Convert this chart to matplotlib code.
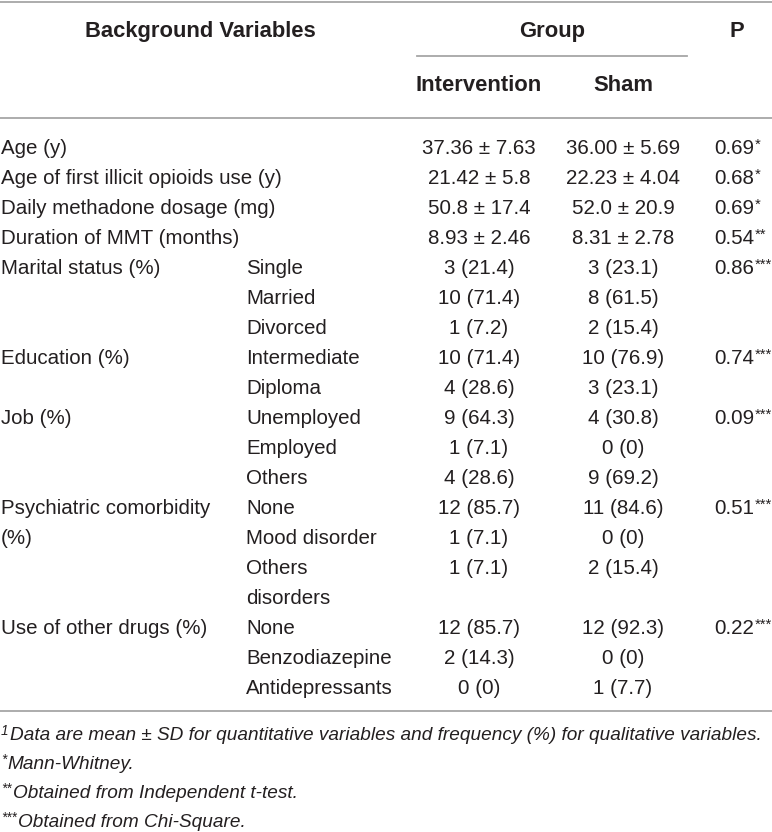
import matplotlib
matplotlib.use('Agg')
import matplotlib.pyplot as plt
from matplotlib import font_manager

# table content
row_labels = ['Age (y)', 'Age of first illicit opioids use (y)', 'Daily methadone dosage (mg)',
              'Duration of MMT (months)', 'Marital status (%)', '', '', 'Education (%)', '',
              'Job (%)', '', '', 'Psychiatric comorbidity', '(%)', '', '',
              'Use of other drugs (%)', '', '']
sub_labels = ['', '', '', '', 'Single', 'Married', 'Divorced', 'Intermediate', 'Diploma',
              'Unemployed', 'Employed', 'Others', 'None', 'Mood disorder', 'Others', 'disorders',
              'None', 'Benzodiazepine', 'Antidepressants']
intervention = ['37.36 ± 7.63', '21.42 ± 5.8', '50.8 ± 17.4', '8.93 ± 2.46', '3 (21.4)',
                '10 (71.4)', '1 (7.2)', '10 (71.4)', '4 (28.6)', '9 (64.3)', '1 (7.1)',
                '4 (28.6)', '12 (85.7)', '1 (7.1)', '1 (7.1)', '', '12 (85.7)', '2 (14.3)', '0 (0)']
sham = ['36.00 ± 5.69', '22.23 ± 4.04', '52.0 ± 20.9', '8.31 ± 2.78', '3 (23.1)',
        '8 (61.5)', '2 (15.4)', '10 (76.9)', '3 (23.1)', '4 (30.8)', '0 (0)',
        '9 (69.2)', '11 (84.6)', '0 (0)', '2 (15.4)', '', '12 (92.3)', '0 (0)', '1 (7.7)']
p_values = ['0.69', '0.68', '0.69', '0.54', '0.86', '', '', '0.74', '', '0.09', '', '',
            '0.51', '', '', '', '0.22', '', '']
p_marks = ['*', '*', '*', '**', '***', '', '', '***', '', '***', '', '',
           '***', '', '', '', '***', '', '']
footnotes = [('1', 'Data are mean ± SD for quantitative variables and frequency (%) for qualitative variables.'),
             ('*', 'Mann-Whitney.'),
             ('**', 'Obtained from Independent t-test.'),
             ('***', 'Obtained from Chi-Square.')]

FAM = ['Liberation Sans', 'DejaVu Sans']
PX = 20.5        # body text size in pixels
PX_HEAD = 22     # bold header
PX_FOOT = 19     # footnotes
INK = '#231f20'
RULE = '#a6a6a6'

fig = plt.figure(figsize=(7.72, 8.32), dpi=100)
ax = fig.add_axes([0, 0, 1, 1])
ax.set_xlim(0, 772)
ax.set_ylim(832, 0)
ax.axis('off')

def put(x, y, s, ha='left', px=PX, **kw):
    # y is the visual middle of the capitals
    return ax.text(x, y + px * 0.36, s, ha=ha, va='baseline', fontsize=px * 0.72,
                   family=FAM, color=INK, **kw)

# rules
ax.plot([0, 772], [2, 2], color=RULE, lw=1.3)
ax.plot([417, 687], [56, 56], color=RULE, lw=1.3)
ax.plot([0, 772], [118, 118], color=RULE, lw=1.3)
ax.plot([0, 772], [711, 711], color=RULE, lw=1.3)

# header
put(200, 29, 'Background Variables', ha='center', px=PX_HEAD, weight='bold')
put(552, 29, 'Group', ha='center', px=PX_HEAD, weight='bold')
put(737, 29, 'P', ha='center', px=PX_HEAD, weight='bold')
put(479, 83, 'Intervention', ha='center', px=PX_HEAD, weight='bold')
put(623, 83, 'Sham', ha='center', px=PX_HEAD, weight='bold')

fig.canvas.draw()
rend = fig.canvas.get_renderer()
inv = ax.transData.inverted()

y0, pitch = 147, 30
for i in range(len(row_labels)):
    y = y0 + i * pitch
    if row_labels[i]:
        put(1, y, row_labels[i])
    if sub_labels[i]:
        put(246, y, sub_labels[i])
    if intervention[i]:
        put(479, y, intervention[i], ha='center')
    if sham[i]:
        put(623, y, sham[i], ha='center')
    if p_values[i]:
        t = put(714, y, p_values[i])
        bb = t.get_window_extent(rend)
        xr = inv.transform((bb.x1, bb.y1))[0]
        ax.text(xr + 0.5, y + PX * 0.1, p_marks[i], ha='left', va='baseline',
                fontsize=PX * 0.72 * 0.72, family=FAM, color=INK)

fy0, fpitch = 733, 29
for j, (mark, txt) in enumerate(footnotes):
    y = fy0 + j * fpitch
    m = ax.text(1, y + PX_FOOT * 0.1, mark, ha='left', va='baseline',
                fontsize=PX_FOOT * 0.72 * 0.72, family=FAM, color=INK, style='italic')
    bb = m.get_window_extent(rend)
    xr = inv.transform((bb.x1, bb.y1))[0]
    put(xr + 1.5, y, txt, px=PX_FOOT, style='italic')

fig.savefig('out.png', dpi=100)
